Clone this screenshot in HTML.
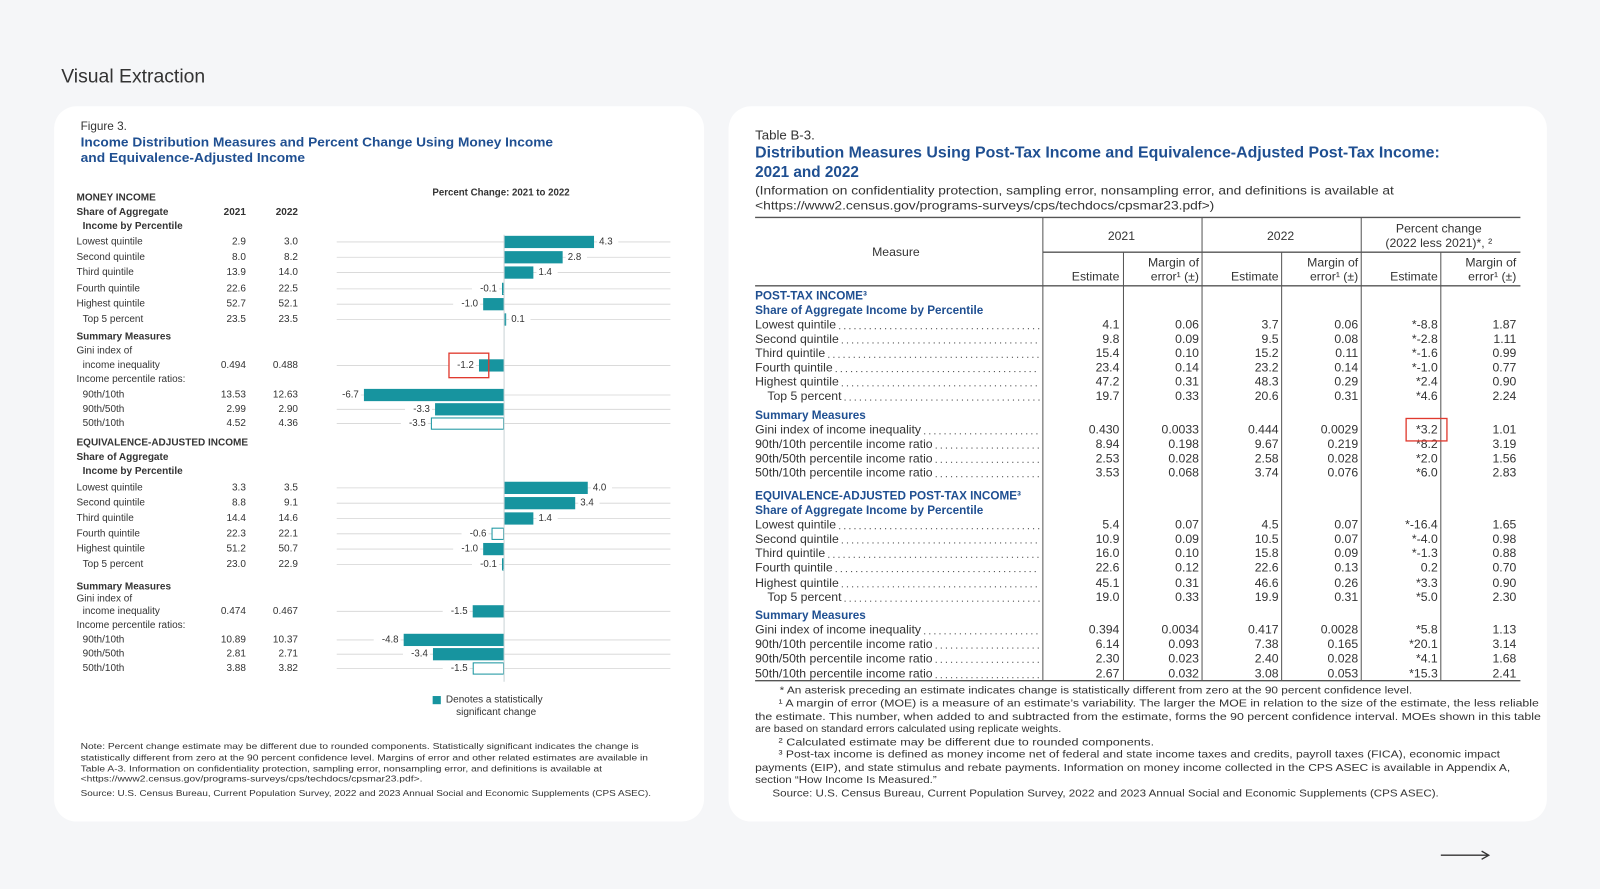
<!DOCTYPE html>
<html><head><meta charset="utf-8"><style>
html,body{margin:0;padding:0;background:#f5f6f8;width:1600px;height:889px;overflow:hidden}
svg{display:block}
text{font-family:"Liberation Sans",sans-serif;fill:#333}
.b{font-weight:bold}
.blue{fill:#1f4f91;font-weight:bold}
</style></head><body>
<svg id="s" width="1600" height="889" viewBox="0 0 1568 871" xmlns="http://www.w3.org/2000/svg">
<rect width="1568" height="871" fill="#f5f6f8"/>
<text x="60" y="75" font-size="19" dominant-baseline="central" fill="#333">Visual Extraction</text>
<rect x="53" y="104" width="637" height="701" rx="22" fill="#fff"/>
<rect x="714" y="104" width="802" height="701" rx="22" fill="#fff"/>
<g id="L"></g><g id="R"></g>
<line x1="1412" y1="838" x2="1458" y2="838" stroke="#333" stroke-width="1.3"/>
<path d="M1452,834 L1459,838 L1452,842" fill="none" stroke="#333" stroke-width="1.3"/>
</svg>
<script>
const NS="http://www.w3.org/2000/svg";
function el(p,tag,a,txt){const e=document.createElementNS(NS,tag);for(const k in a)e.setAttribute(k,a[k]);if(txt!==undefined)e.textContent=txt;p.appendChild(e);return e;}
function T(p,x,y,s,fs,o){o=o||{};const a={x:x,y:y,'font-size':fs,'dominant-baseline':'central'};if(o.a)a['text-anchor']=o.a;if(o.c)a['class']=o.c;if(o.w){a.textLength=o.w;a.lengthAdjust='spacingAndGlyphs';}if(o.f)a.fill=o.f;return el(p,'text',a,s);}
const L=document.getElementById('L'),R=document.getElementById('R');
T(L,79,124,'Figure 3.',11.5);
T(L,79,139,'Income Distribution Measures and Percent Change Using Money Income',12.5,{c:'blue',w:463});
T(L,79,154,'and Equivalence-Adjusted Income',12.5,{c:'blue',w:220});
T(L,491,189,'Percent Change: 2021 to 2022',9.5,{c:'b',a:'middle'});
const lrows=[
[194,'MONEY INCOME','','',1],[208,'Share of Aggregate','2021','2022',1],[222,'  Income by Percentile','','',1],
[237,'Lowest quintile','2.9','3.0',0,4.3,1],[252,'Second quintile','8.0','8.2',0,2.8,1],[267,'Third quintile','13.9','14.0',0,1.4,1],
[283,'Fourth quintile','22.6','22.5',0,-0.1,0],[298,'Highest quintile','52.7','52.1',0,-1.0,1],[313,'  Top 5 percent','23.5','23.5',0,0.1,0],
[330,'Summary Measures','','',1],[344,'Gini index of','','',0],[358,'  income inequality','0.494','0.488',0,-1.2,1],
[372,'Income percentile ratios:','','',0],[387,'  90th/10th','13.53','12.63',0,-6.7,1],[401,'  90th/50th','2.99','2.90',0,-3.3,1],[415,'  50th/10th','4.52','4.36',0,-3.5,0],
[434,'EQUIVALENCE-ADJUSTED INCOME','','',1],[448,'Share of Aggregate','','',1],[462,'  Income by Percentile','','',1],
[478,'Lowest quintile','3.3','3.5',0,4.0,1],[493,'Second quintile','8.8','9.1',0,3.4,1],[508,'Third quintile','14.4','14.6',0,1.4,1],
[523,'Fourth quintile','22.3','22.1',0,-0.6,0],[538,'Highest quintile','51.2','50.7',0,-1.0,1],[553,'  Top 5 percent','23.0','22.9',0,-0.1,0],
[575,'Summary Measures','','',1],[587,'Gini index of','','',0],[599,'  income inequality','0.474','0.467',0,-1.5,1],
[613,'Income percentile ratios:','','',0],[627,'  90th/10th','10.89','10.37',0,-4.8,1],[641,'  90th/50th','2.81','2.71',0,-3.4,1],[655,'  50th/10th','3.88','3.82',0,-1.5,0]];
const Z=494,K=20.5,teal='#17949f';
lrows.forEach(r=>{
 const [y,lab,a,b,bold,v,sig]=r;const ind=lab.startsWith('  ');
 T(L,ind?81:75,y,lab.trim(),9.8,{c:bold?'b':''});
 if(a){T(L,241,y,a,9.8,{a:'end',c:bold?'b':''});T(L,292,y,b,9.8,{a:'end',c:bold?'b':''});}
 if(v!==undefined){
  el(L,'line',{x1:330,y1:y,x2:657,y2:y,stroke:'#d4d4d4','stroke-width':0.8});
  const w=Math.max(Math.abs(v)*K,1.5);const x=v>=0?Z:Z-w;
  if(sig)el(L,'rect',{x:x,y:y-6,width:w,height:12,fill:teal});
  else el(L,'rect',{x:x+0.5,y:y-5.5,width:w-1,height:11,fill:'#fff',stroke:teal,'stroke-width':1});
  const s=v.toFixed(1);const lx=v>=0?Z+w+4:Z-w-4;const tw=s.length*5.6+4;
  el(L,'rect',{x:v>=0?lx-1:lx-tw+1,y:y-6,width:tw,height:12,fill:'#fff'});
  T(L,v>=0?lx+1:lx-1,y,s,9.5,{a:v>=0?'start':'end',f:'#555'});
 }
});
el(L,'line',{x1:Z,y1:230,x2:Z,y2:668,stroke:'#c9d3d6','stroke-width':1});
el(L,'rect',{x:440,y:346,width:39,height:24,fill:'none',stroke:'#e03a2f','stroke-width':1.3});
el(L,'rect',{x:424,y:682,width:8,height:8,fill:teal});
T(L,437,686,'Denotes a statistically',9.8);T(L,447,698,'significant change',9.8);
T(L,79,731,'Note: Percent change estimate may be different due to rounded components. Statistically significant indicates the change is',8.3,{w:547});
T(L,79,742,'statistically different from zero at the 90 percent confidence level. Margins of error and other related estimates are available in',8.3,{w:556});
T(L,79,753,'Table A-3. Information on confidentiality protection, sampling error, nonsampling error, and definitions is available at',8.3,{w:511});
T(L,79,763,'<https://www2.census.gov/programs-surveys/cps/techdocs/cpsmar23.pdf>.',8.3,{w:335});
T(L,79,777,'Source: U.S. Census Bureau, Current Population Survey, 2022 and 2023 Annual Social and Economic Supplements (CPS ASEC).',8.3,{w:559});
T(R,740,132,'Table B-3.',13);
T(R,740,150,'Distribution Measures Using Post-Tax Income and Equivalence-Adjusted Post-Tax Income:',15,{c:'blue',w:671});
T(R,740,169,'2021 and 2022',15,{c:'blue'});
T(R,740,187,'(Information on confidentiality protection, sampling error, nonsampling error, and definitions is available at',11.5,{w:626});
T(R,740,202,'<https://www2.census.gov/programs-surveys/cps/techdocs/cpsmar23.pdf>)',11.5,{w:450});
const g='#555';
el(R,'line',{x1:740,y1:213,x2:1490,y2:213,stroke:g,'stroke-width':1.3});
el(R,'line',{x1:1022,y1:247,x2:1490,y2:247,stroke:g,'stroke-width':1.3});
el(R,'line',{x1:740,y1:280,x2:1490,y2:280,stroke:g,'stroke-width':1.3});
el(R,'line',{x1:740,y1:667,x2:1490,y2:667,stroke:g,'stroke-width':1.3});
[1022,1178,1334].forEach(x=>el(R,'line',{x1:x,y1:213,x2:x,y2:667,stroke:g,'stroke-width':1}));
[1101,1256,1412].forEach(x=>el(R,'line',{x1:x,y1:247,x2:x,y2:667,stroke:g,'stroke-width':1}));
T(R,878,247,'Measure',12,{a:'middle'});
T(R,1099,231,'2021',12,{a:'middle'});T(R,1255,231,'2022',12,{a:'middle'});
T(R,1410,224,'Percent change',12,{a:'middle'});T(R,1410,238,'(2022 less 2021)*, ²',12,{a:'middle'});
[[1097,1175],[1253,1331],[1409,1486]].forEach(([e,m])=>{T(R,e,271,'Estimate',12,{a:'end'});T(R,m,257,'Margin of',12,{a:'end'});T(R,m,271,'error¹ (±)',12,{a:'end'});});
const rr=[
[290,'POST-TAX INCOME³',1],[304,'Share of Aggregate Income by Percentile',1],
[318,'Lowest quintile','4.1','0.06','3.7','0.06','*-8.8','1.87'],[332,'Second quintile','9.8','0.09','9.5','0.08','*-2.8','1.11'],
[346,'Third quintile','15.4','0.10','15.2','0.11','*-1.6','0.99'],[360,'Fourth quintile','23.4','0.14','23.2','0.14','*-1.0','0.77'],
[374,'Highest quintile','47.2','0.31','48.3','0.29','*2.4','0.90'],[388,'  Top 5 percent','19.7','0.33','20.6','0.31','*4.6','2.24'],
[407,'Summary Measures',1],
[421,'Gini index of income inequality','0.430','0.0033','0.444','0.0029','*3.2','1.01'],
[435,'90th/10th percentile income ratio','8.94','0.198','9.67','0.219','*8.2','3.19'],
[449,'90th/50th percentile income ratio','2.53','0.028','2.58','0.028','*2.0','1.56'],
[463,'50th/10th percentile income ratio','3.53','0.068','3.74','0.076','*6.0','2.83'],
[486,'EQUIVALENCE-ADJUSTED POST-TAX INCOME³',1],[500,'Share of Aggregate Income by Percentile',1],
[514,'Lowest quintile','5.4','0.07','4.5','0.07','*-16.4','1.65'],[528,'Second quintile','10.9','0.09','10.5','0.07','*-4.0','0.98'],
[542,'Third quintile','16.0','0.10','15.8','0.09','*-1.3','0.88'],[556,'Fourth quintile','22.6','0.12','22.6','0.13','0.2','0.70'],
[571,'Highest quintile','45.1','0.31','46.6','0.26','*3.3','0.90'],[585,'  Top 5 percent','19.0','0.33','19.9','0.31','*5.0','2.30'],
[603,'Summary Measures',1],
[617,'Gini index of income inequality','0.394','0.0034','0.417','0.0028','*5.8','1.13'],
[631,'90th/10th percentile income ratio','6.14','0.093','7.38','0.165','*20.1','3.14'],
[645,'90th/50th percentile income ratio','2.30','0.023','2.40','0.028','*4.1','1.68'],
[660,'50th/10th percentile income ratio','2.67','0.032','3.08','0.053','*15.3','2.41']];
const cx=[1097,1175,1253,1331,1409,1486];
rr.forEach(r=>{
 const y=r[0];
 if(r[2]===1){T(R,740,y,r[1],11.5,{c:'blue'});return;}
 const ind=r[1].startsWith('  ');const t=T(R,ind?752:740,y,r[1].trim(),12);
 let w=0;try{w=t.getComputedTextLength();}catch(e){w=r[1].length*6;}
 const sx=(ind?752:740)+w+3;
 el(R,'line',{x1:sx,y1:y+4,x2:1019,y2:y+4,stroke:'#555','stroke-width':1.1,'stroke-dasharray':'1.1 3.9'});
 for(let i=0;i<6;i++)T(R,cx[i],y,r[2+i],12,{a:'end'});
});
el(R,'rect',{x:1378,y:410,width:40,height:22,fill:'none',stroke:'#e03a2f','stroke-width':1.3});
const fn=[[764,677,'* An asterisk preceding an estimate indicates change is statistically different from zero at the 90 percent confidence level.',620],
[763,690,'¹ A margin of error (MOE) is a measure of an estimate’s variability. The larger the MOE in relation to the size of the estimate, the less reliable',745],
[740,703,'the estimate. This number, when added to and subtracted from the estimate, forms the 90 percent confidence interval. MOEs shown in this table',770],
[740,715,'are based on standard errors calculated using replicate weights.',300],
[763,728,'² Calculated estimate may be different due to rounded components.',368],
[763,740,'³ Post-tax income is defined as money income net of federal and state income taxes and credits, payroll taxes (FICA), economic impact',707],
[740,753,'payments (EIP), and state stimulus and rebate payments. Information on money income collected in the CPS ASEC is available in Appendix A,',740],
[740,765,'section “How Income Is Measured.”',178],
[757,778,'Source: U.S. Census Bureau, Current Population Survey, 2022 and 2023 Annual Social and Economic Supplements (CPS ASEC).',653]];
fn.forEach(f=>T(R,f[0],f[1],f[2],10.2,{w:f[3]}));
</script>
</body></html>
